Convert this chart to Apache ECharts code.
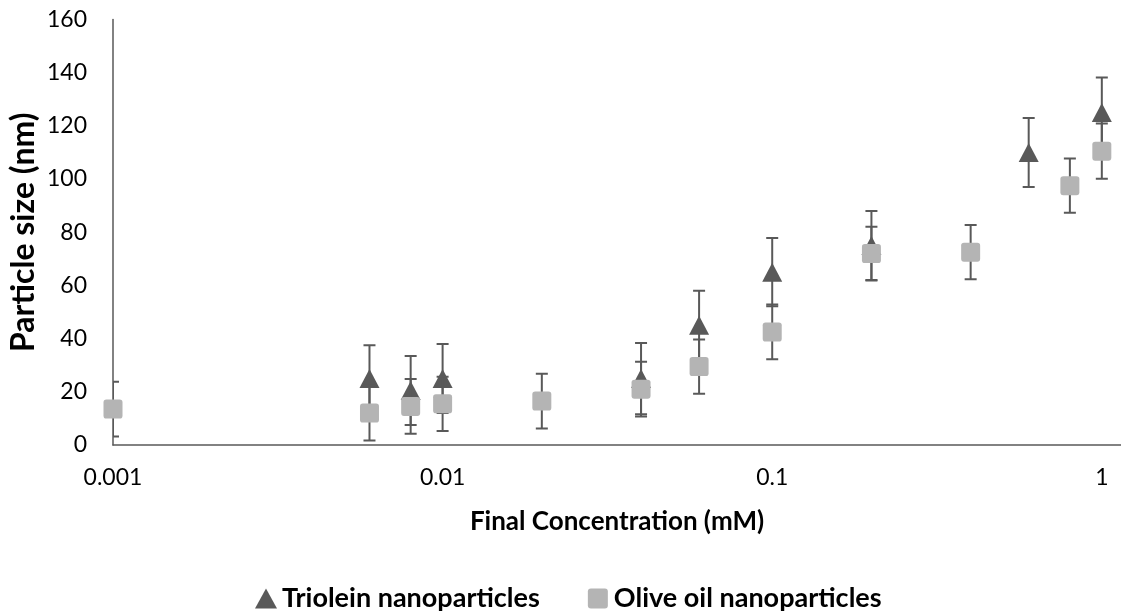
<!DOCTYPE html>
<html>
<head>
<meta charset="utf-8">
<script src="https://cdn.jsdelivr.net/npm/echarts@6/dist/echarts.min.js"></script>
<style>
  html, body { margin: 0; padding: 0; background: #ffffff; }
  #chart { width: 1121px; height: 614px; }
</style>
</head>
<body>
<div id="chart"></div>
<script>
// Triolein nanoparticles: concentration (mM), mean size (nm), error (± nm)
const trioleinConc = [0.006, 0.008, 0.01, 0.04, 0.06, 0.1, 0.2, 0.6, 1];
const trioleinSize = [25, 20.5, 25, 25, 45, 65, 75, 110, 125];
const trioleinErr  = [12.5, 13, 13, 13.4, 13, 12.8, 13, 13, 13.2];

// Olive oil nanoparticles: concentration (mM), mean size (nm), error (± nm)
const oliveConc = [0.001, 0.006, 0.008, 0.01, 0.02, 0.04, 0.06, 0.1, 0.2, 0.4, 0.8, 1];
const oliveSize = [13.5, 12, 14.5, 15.5, 16.5, 21, 29.5, 42.5, 72, 72.5, 97.5, 110.5];
const oliveErr  = [10.3, 10.3, 10.3, 10.2, 10.3, 10.3, 10.2, 10.3, 10.1, 10.2, 10.2, 10.4];

const yTicks = [0, 20, 40, 60, 80, 100, 120, 140, 160];

const FONT = 'Lato, "Open Sans", sans-serif';
const BAR_COLOR = '#595959';
const TRI_COLOR = '#595959';
const SQ_COLOR = '#b4b4b4';
const SQUARE_PATH = 'path://M3,0H17Q20,0 20,3V17Q20,20 17,20H3Q0,20 0,17V3Q0,0 3,0Z';

const pts = (xs, ys) => xs.map((x, i) => [x, ys[i]]);
const bars = (xs, ys, es) => xs.map((x, i) => [x, ys[i] - es[i], ys[i] + es[i]]);

// vertical error bar with a cap at each end
function renderErrorBar(params, api) {
  const x = api.value(0);
  const top = api.coord([x, api.value(2)]);
  const bot = api.coord([x, api.value(1)]);
  const half = 6;
  const style = { stroke: BAR_COLOR, lineWidth: 2 };
  return {
    type: 'group',
    children: [
      { type: 'line', shape: { x1: top[0], y1: top[1], x2: bot[0], y2: bot[1] }, style },
      { type: 'line', shape: { x1: top[0] - half, y1: top[1], x2: top[0] + half, y2: top[1] }, style },
      { type: 'line', shape: { x1: bot[0] - half, y1: bot[1], x2: bot[0] + half, y2: bot[1] }, style }
    ]
  };
}

const chart = echarts.init(document.getElementById('chart'), null, { renderer: 'canvas' });

chart.setOption({
  animation: false,
  backgroundColor: '#ffffff',
  textStyle: { fontFamily: FONT },
  grid: { left: 111.5, right: 0, top: 19.5, bottom: 169, containLabel: false },
  legend: {
    data: ['Triolein nanoparticles', 'Olive oil nanoparticles'],
    left: 255,
    top: 585,
    padding: 0,
    itemGap: 48,
    itemWidth: 22,
    itemHeight: 20,
    textStyle: { fontFamily: FONT, fontWeight: 'bold', fontSize: 27, color: '#000000' }
  },
  xAxis: {
    type: 'log',
    logBase: 10,
    min: 0.001,
    max: 1.1434,
    name: 'Final Concentration (mM)',
    nameLocation: 'middle',
    nameGap: 64,
    nameMoveOverlap: false,
    nameTextStyle: { fontFamily: FONT, fontWeight: 'bold', fontSize: 26, color: '#000000' },
    axisLine: { show: true, lineStyle: { color: '#595959', width: 1.5 } },
    axisTick: { show: false },
    splitLine: { show: false },
    axisLabel: {
      fontFamily: FONT, fontSize: 23, color: '#000000', margin: 21,
      showMaxLabel: false,
      formatter: function (v) {
        const e = Math.log10(v);
        if (Math.abs(e - Math.round(e)) > 1e-6) return '';
        return String(Number(Math.pow(10, Math.round(e)).toPrecision(3)));
      }
    }
  },
  yAxis: {
    type: 'value',
    min: yTicks[0],
    max: yTicks[yTicks.length - 1],
    interval: yTicks[1] - yTicks[0],
    name: 'Particle size (nm)',
    nameLocation: 'middle',
    nameRotate: 90,
    nameGap: 73,
    nameMoveOverlap: false,
    nameTextStyle: { fontFamily: FONT, fontWeight: 'bold', fontSize: 32, color: '#000000' },
    axisLine: { show: true, lineStyle: { color: '#595959', width: 1.5 } },
    axisTick: { show: false },
    splitLine: { show: false },
    axisLabel: { fontFamily: FONT, fontSize: 23, color: '#000000', margin: 26 }
  },
  series: [
    {
      name: 'Triolein error',
      type: 'custom',
      renderItem: renderErrorBar,
      clip: true,
      encode: { x: 0, y: [1, 2] },
      data: bars(trioleinConc, trioleinSize, trioleinErr),
      z: 2
    },
    {
      name: 'Triolein nanoparticles',
      type: 'scatter',
      symbol: 'triangle',
      symbolSize: [20, 19],
      itemStyle: { color: TRI_COLOR, opacity: 1 },
      data: pts(trioleinConc, trioleinSize),
      z: 3
    },
    {
      name: 'Olive oil error',
      type: 'custom',
      renderItem: renderErrorBar,
      clip: true,
      encode: { x: 0, y: [1, 2] },
      data: bars(oliveConc, oliveSize, oliveErr),
      z: 4
    },
    {
      name: 'Olive oil nanoparticles',
      type: 'scatter',
      symbol: SQUARE_PATH,
      symbolSize: 19,
      itemStyle: { color: SQ_COLOR, opacity: 1 },
      data: pts(oliveConc, oliveSize),
      z: 5
    }
  ]
});
</script>
</body>
</html>
